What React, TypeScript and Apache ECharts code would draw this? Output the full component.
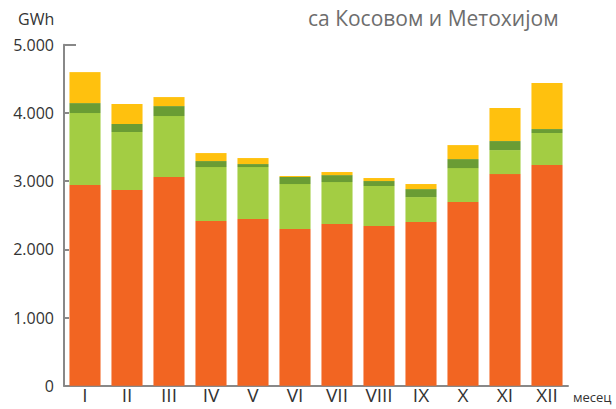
import React, { useEffect, useRef } from "react";
import * as echarts from "echarts";

const months = ["I", "II", "III", "IV", "V", "VI", "VII", "VIII", "IX", "X", "XI", "XII"];
const seriesA = [2942, 2868, 3060, 2414, 2443, 2297, 2370, 2341, 2400, 2693, 3103, 3235];
const seriesB = [1056, 851, 894, 792, 763, 660, 616, 587, 366, 498, 352, 470];
const seriesC = [146, 117, 146, 88, 44, 103, 102, 73, 117, 132, 132, 58];
const seriesD = [454, 293, 132, 117, 88, 15, 45, 44, 74, 205, 484, 674];
const colors = ["#F26522", "#A3CD43", "#6A9C34", "#FFC10E"];
const yTicks = [0, 1000, 2000, 3000, 4000, 5000];

const fmt = (v: number) => (v === 0 ? "0" : String(v / 1000) + ".000");

export default function App() {
  const ref = useRef<HTMLDivElement>(null);
  useEffect(() => {
    const chart = echarts.init(ref.current!, undefined, { renderer: "svg" });
    const font = "'Open Sans', 'Noto Sans', sans-serif";
    const mk = (name: string, data: number[], i: number) => ({
      name,
      type: "bar",
      stack: "t",
      data,
      barCategoryGap: "26%",
      itemStyle: { color: colors[i] },
    });
    chart.setOption({
      animation: false,
      grid: { left: 64, right: 48, top: 44.7, bottom: 23.3, containLabel: false },
      xAxis: {
        type: "category",
        data: months,
        axisLine: { lineStyle: { color: "#888", width: 2 } },
        axisTick: { inside: true, length: 7, lineStyle: { color: "#888", width: 2 } },
        axisLabel: { color: "#333", fontSize: 19, lineHeight: 19, fontFamily: font, margin: 0 },
      },
      yAxis: {
        type: "value",
        min: yTicks[0],
        max: yTicks[yTicks.length - 1],
        interval: 1000,
        axisLine: { show: true, lineStyle: { color: "#888", width: 2 } },
        axisTick: { show: true, inside: true, length: 5, lineStyle: { color: "#888", width: 2 } },
        splitLine: { show: false },
        axisLabel: {
          color: "#333",
          fontSize: 16,
          fontFamily: font,
          margin: 10,
          padding: [7, 0, 0, 0],
          formatter: (v: number) => fmt(v),
        },
      },
      series: [mk("a", seriesA, 0), mk("b", seriesB, 1), mk("c", seriesC, 2), mk("d", seriesD, 3)],
      graphic: [
        { type: "line", shape: { x1: 64, y1: 45, x2: 76, y2: 45 }, style: { stroke: "#888", lineWidth: 2 } },
        {
          type: "text",
          left: 18,
          top: 11,
          style: { text: "GWh", fontSize: 16, fontFamily: font, fill: "#333" },
        },
        {
          type: "text",
          left: 308,
          top: 7,
          style: { text: "са Косовом и Метохијом", fontSize: 21, fontFamily: font, fill: "#6d6d6d" },
        },
        {
          type: "text",
          left: 573,
          top: 390,
          style: { text: "месец", fontSize: 13, fontFamily: font, fill: "#333" },
        },
      ],
    });
    return () => chart.dispose();
  }, []);
  return <div ref={ref} style={{ width: 616, height: 409, position: "absolute", left: 0, top: 0 }} />;
}
